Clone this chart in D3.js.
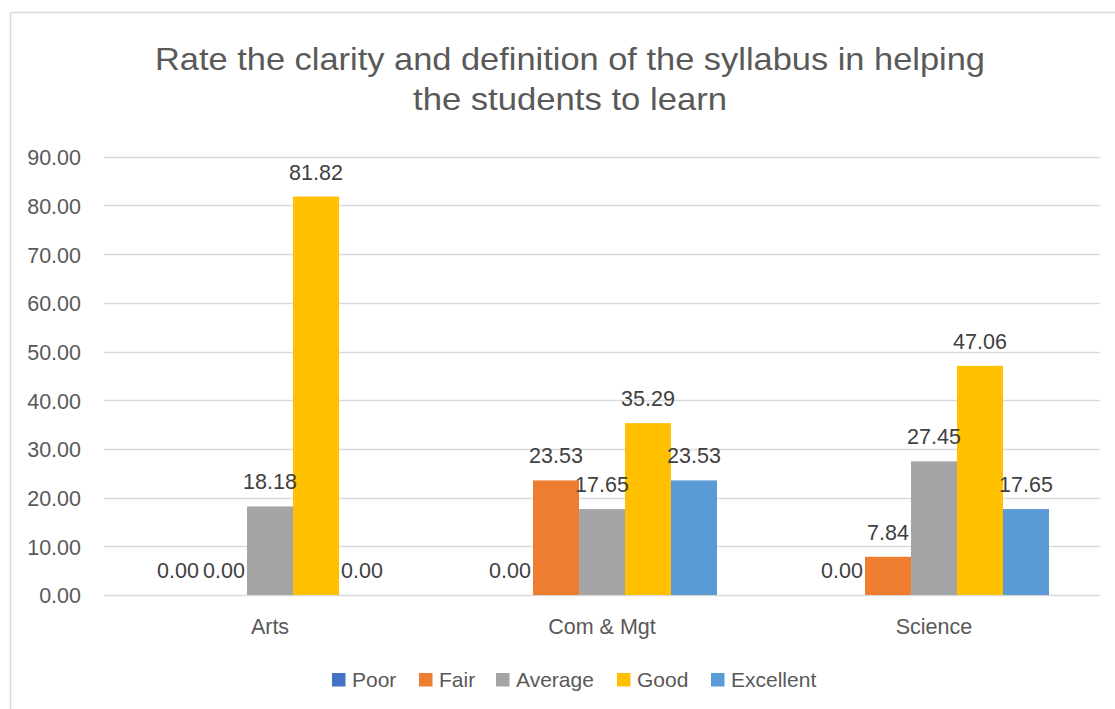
<!DOCTYPE html>
<html><head><meta charset="utf-8">
<script src="https://cdn.jsdelivr.net/npm/d3@7"></script>
<style>
html,body{margin:0;padding:0;background:#fff;}
svg{display:block;font-family:"Liberation Sans",Arial,sans-serif;}
</style></head>
<body><svg id="chart" width="1115" height="709"></svg>
<script>
const categories = ["Arts", "Com & Mgt", "Science"];
const seriesNames = ["Poor", "Fair", "Average", "Good", "Excellent"];
const poor = [0.00, 0.00, 0.00];
const fair = [0.00, 23.53, 7.84];
const average = [18.18, 17.65, 27.45];
const good = [81.82, 35.29, 47.06];
const excellent = [0.00, 23.53, 17.65];
const yTicks = [0, 10, 20, 30, 40, 50, 60, 70, 80, 90];
const titleLines = ["Rate the clarity and definition of the syllabus in helping", "the students to learn"];
const colors = ["#4472C4", "#ED7D31", "#A5A5A5", "#FFC000", "#5B9BD5"];

const values = [poor, fair, average, good, excellent];
const svg = d3.select("#chart");
const FS = "21.5px";

// chart border (top & left visible)
svg.append("line").attr("x1",10.5).attr("x2",1115).attr("y1",12.5).attr("y2",12.5).attr("stroke","#d9d9d9").attr("stroke-width",1.5);
svg.append("line").attr("x1",10.5).attr("x2",10.5).attr("y1",12.5).attr("y2",709).attr("stroke","#d9d9d9").attr("stroke-width",1.5);

// title
const titleSpec = [{y:69.5, w:830, cx:570},{y:110, w:314, cx:570}];
titleLines.forEach((t,i)=>{
  const el = svg.append("text").attr("x",titleSpec[i].cx).attr("y",titleSpec[i].y)
    .attr("text-anchor","middle").attr("fill","#595959").style("font-size","32px").text(t);
  el.attr("textLength", titleSpec[i].w).attr("lengthAdjust","spacingAndGlyphs");
});

const x0 = d3.scaleBand().domain(categories).range([104,1100]).padding(0);
const x1 = d3.scaleBand().domain(seriesNames).range([0,x0.bandwidth()]).paddingInner(0).paddingOuter(1.109);
const y = d3.scaleLinear().domain([0,90]).range([595,156.7]);

// gridlines
svg.append("g").selectAll("line").data(yTicks).join("line")
  .attr("x1",104).attr("x2",1100)
  .attr("y1",d=>Math.round(y(d))+0.5).attr("y2",d=>Math.round(y(d))+0.5)
  .attr("stroke","#d9d9d9").attr("stroke-width",1.3);

// y axis
const yAxis = d3.axisLeft(y).tickValues(yTicks).tickFormat(d3.format(".2f")).tickSize(0).tickPadding(0);
const gy = svg.append("g").attr("transform","translate(81,0)").call(yAxis);
gy.select(".domain").remove();
gy.selectAll("text").attr("fill","#595959").style("font-size",FS).style("font-family","Liberation Sans, Arial, sans-serif").attr("dy","0.37em");

// x axis
const xAxis = d3.axisBottom(x0).tickSize(0).tickPadding(0);
const gx = svg.append("g").attr("transform","translate(0,634)").call(xAxis);
gx.select(".domain").remove();
gx.selectAll("text").attr("fill","#595959").style("font-size",FS).style("font-family","Liberation Sans, Arial, sans-serif").attr("dy","0").attr("y",0);

// bars
const data = [];
categories.forEach((c,ci)=>seriesNames.forEach((s,si)=>data.push({c, s, si, v: values[si][ci]})));
const g = svg.append("g");
g.selectAll("rect").data(data.filter(d=>d.v>0)).join("rect")
  .attr("x",d=>x0(d.c)+x1(d.s)).attr("width",x1.bandwidth())
  .attr("y",d=>y(d.v)).attr("height",d=>y(0)-y(d.v))
  .attr("fill",d=>colors[d.si]);

// data labels
g.selectAll("text").data(data).join("text")
  .attr("x",d=>x0(d.c)+x1(d.s)+x1.bandwidth()/2)
  .attr("y",d=>y(d.v)-17)
  .attr("text-anchor","middle").attr("fill","#404040").style("font-size",FS)
  .text(d=>d.v.toFixed(2));

// legend
const legendX = [332, 419, 496, 617, 711];
const lg = svg.append("g");
seriesNames.forEach((s,i)=>{
  lg.append("rect").attr("x",legendX[i]).attr("y",673).attr("width",13.5).attr("height",13.5).attr("fill",colors[i]);
  lg.append("text").attr("x",legendX[i]+20).attr("y",687.3).attr("fill","#595959").style("font-size","21px").text(s);
});
</script>
</body></html>
